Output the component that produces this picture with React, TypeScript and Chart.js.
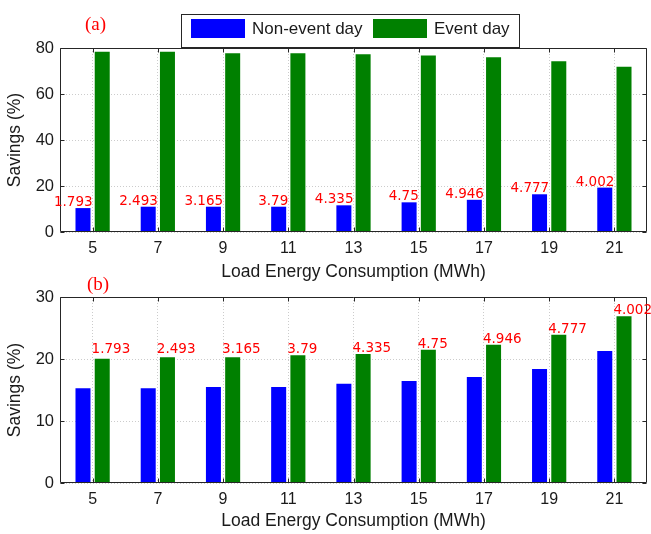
import React, { useEffect, useRef } from 'react';
import { Chart, registerables } from 'chart.js';

Chart.register(...registerables);

// ---------- data ----------
const categories = ['5', '7', '9', '11', '13', '15', '17', '19', '21'];
const seriesNames = ['Non-event day', 'Event day'];

const nonEventA = [10.4, 11.0, 11.0, 11.0, 11.6, 12.9, 14.0, 16.4, 19.3];
const eventA = [78.4, 78.4, 77.7, 77.7, 77.3, 76.7, 76.0, 74.2, 71.9];

const nonEventB = [15.3, 15.3, 15.5, 15.5, 16.0, 16.45, 17.1, 18.4, 21.3];
const eventB = [20.05, 20.3, 20.3, 20.6, 20.8, 21.5, 22.3, 23.9, 26.9];

const diffLabels = ['1.793', '2.493', '3.165', '3.79', '4.335', '4.75', '4.946', '4.777', '4.002'];
const labelFloorB = 21;

const yMaxA = 80;
const yStepA = 20;
const yMaxB = 30;
const yStepB = 10;

const panelA = '(a)';
const panelB = '(b)';
const xTitle = 'Load Energy Consumption (MWh)';
const yTitle = 'Savings (%)';

// ---------- styling ----------
const BLUE = '#0000ff';
const GREEN = '#008000';
const RED = '#ff0000';
const AXIS_FONT = "'Liberation Sans', Arial, sans-serif";
const LABEL_FONT = "'DejaVu Sans', sans-serif";
const SERIF = "'Liberation Serif', 'Times New Roman', serif";
const W = 651;

const framePlugin = {
  id: 'frame',
  afterDatasetsDraw(chart: any) {
    const { ctx, chartArea: a, scales } = chart;
    const x = scales.x;
    const y = scales.y;
    const L = Math.round(a.left) + 0.5;
    const R = Math.round(a.right) - 0.5;
    const T = Math.round(a.top) + 0.5;
    const B = Math.round(a.bottom) - 0.5;
    ctx.save();
    ctx.strokeStyle = '#262626';
    ctx.lineWidth = 1;
    ctx.beginPath();
    ctx.moveTo(L, T);
    ctx.lineTo(R, T);
    ctx.lineTo(R, B);
    ctx.lineTo(L, B);
    ctx.closePath();
    ctx.stroke();
    ctx.beginPath();
    y.ticks.forEach((t: any) => {
      const py = Math.round(y.getPixelForValue(t.value)) + 0.5;
      ctx.moveTo(L, py);
      ctx.lineTo(L + 4, py);
      ctx.moveTo(R, py);
      ctx.lineTo(R - 4, py);
    });
    categories.forEach((_, i) => {
      const px = Math.round(x.getPixelForValue(i)) + 0.5;
      ctx.moveTo(px, B);
      ctx.lineTo(px, B - 4);
      ctx.moveTo(px, T);
      ctx.lineTo(px, T + 4);
    });
    ctx.stroke();
    ctx.restore();
  },
};

function makeLabelPlugin(mode: 'a' | 'b') {
  return {
    id: 'valueLabels' + mode,
    afterDatasetsDraw(chart: any) {
      const { ctx, scales } = chart;
      const x = scales.x;
      const y = scales.y;
      ctx.save();
      ctx.fillStyle = RED;
      ctx.font = `13.5px ${LABEL_FONT}`;
      ctx.textBaseline = 'alphabetic';
      diffLabels.forEach((txt, i) => {
        const cx = x.getPixelForValue(i);
        if (mode === 'a') {
          const top = y.getPixelForValue(nonEventA[i]);
          ctx.textAlign = 'right';
          ctx.fillText(txt, cx, top - 2);
        } else {
          const top = y.getPixelForValue(eventB[i]);
          const base = Math.min(top - 2, y.getPixelForValue(labelFloorB));
          ctx.textAlign = 'left';
          ctx.fillText(txt, cx - 1, base);
        }
      });
      ctx.restore();
    },
  };
}

function makeDecorPlugin(mode: 'a' | 'b') {
  return {
    id: 'decor' + mode,
    afterDraw(chart: any) {
      const { ctx } = chart;
      ctx.save();
      ctx.fillStyle = RED;
      ctx.font = `19px ${SERIF}`;
      ctx.textAlign = 'left';
      ctx.textBaseline = 'middle';
      if (mode === 'a') {
        ctx.fillText(panelA, 85, 25);
        // legend
        const bx = 181.5, by = 14.5, bw = 338, bh = 33;
        ctx.fillStyle = '#ffffff';
        ctx.fillRect(bx, by, bw, bh);
        ctx.strokeStyle = '#262626';
        ctx.lineWidth = 1;
        ctx.strokeRect(bx, by, bw, bh);
        const items = [
          { color: BLUE, text: seriesNames[0], x: 191 },
          { color: GREEN, text: seriesNames[1], x: 373 },
        ];
        ctx.font = `17px ${AXIS_FONT}`;
        items.forEach((it) => {
          ctx.fillStyle = it.color;
          ctx.fillRect(it.x, 19, 54, 19);
          ctx.fillStyle = '#1a1a1a';
          ctx.fillText(it.text, it.x + 61, 29);
        });
      } else {
        ctx.fillText(panelB, 87, 15);
      }
      ctx.restore();
    },
  };
}

function buildConfig(mode: 'a' | 'b') {
  const isA = mode === 'a';
  const canvasH = isA ? 285 : 264;
  const chartTop = isA ? 48 : 27;
  const chartBottom = isA ? 232 : 213;
  return {
    type: 'bar' as const,
    data: {
      labels: categories,
      datasets: [
        {
          label: seriesNames[0],
          data: isA ? nonEventA : nonEventB,
          backgroundColor: BLUE,
          borderWidth: 0,
          categoryPercentage: 0.59,
          barPercentage: 0.78,
        },
        {
          label: seriesNames[1],
          data: isA ? eventA : eventB,
          backgroundColor: GREEN,
          borderWidth: 0,
          categoryPercentage: 0.59,
          barPercentage: 0.78,
        },
      ],
    },
    options: {
      animation: false,
      responsive: false,
      devicePixelRatio: 1,
      layout: { padding: { top: chartTop, right: 4, left: 0, bottom: 0 } },
      plugins: { legend: { display: false }, tooltip: { enabled: false } },
      scales: {
        x: {
          type: 'category',
          offset: true,
          grid: { offset: false, color: '#cccccc', drawTicks: false, lineWidth: 1 },
          border: { display: false, dash: [1, 2] },
          ticks: {
            autoSkip: false,
            maxRotation: 0,
            padding: 7,
            color: '#1a1a1a',
            font: { size: 16, family: AXIS_FONT },
          },
          title: {
            display: true,
            text: xTitle,
            color: '#1a1a1a',
            font: { size: 17.5, family: AXIS_FONT },
            padding: { top: 0, bottom: isA ? 2.5 : 2 },
          },
          afterFit(scale: any) {
            scale.height = canvasH - chartBottom;
          },
        },
        y: {
          min: 0,
          max: isA ? yMaxA : yMaxB,
          grid: { color: '#cccccc', drawTicks: false, lineWidth: 1 },
          border: { display: false, dash: [1, 2] },
          ticks: {
            stepSize: isA ? yStepA : yStepB,
            padding: 6,
            color: '#1a1a1a',
            font: { size: 16.5, family: AXIS_FONT },
          },
          title: {
            display: true,
            text: yTitle,
            color: '#1a1a1a',
            font: { size: 17.5, family: AXIS_FONT },
            padding: { top: 4.5, bottom: 0 },
          },
          afterFit(scale: any) {
            scale.width = 60;
          },
        },
      },
    },
    plugins: [framePlugin, makeLabelPlugin(mode), makeDecorPlugin(mode)],
  };
}

function Panel({ mode, top, height }: { mode: 'a' | 'b'; top: number; height: number }) {
  const ref = useRef<HTMLCanvasElement | null>(null);
  useEffect(() => {
    if (!ref.current) return;
    const chart = new Chart(ref.current, buildConfig(mode) as any);
    return () => chart.destroy();
  }, [mode]);
  return (
    <canvas
      ref={ref}
      width={W}
      height={height}
      style={{ position: 'absolute', left: 0, top, width: W, height, display: 'block' }}
    />
  );
}

export default function App() {
  return (
    <div
      style={{
        position: 'absolute',
        left: 0,
        top: 0,
        width: W,
        height: 534,
        background: '#ffffff',
        overflow: 'hidden',
      }}
    >
      <Panel mode="a" top={0} height={285} />
      <Panel mode="b" top={270} height={264} />
    </div>
  );
}
